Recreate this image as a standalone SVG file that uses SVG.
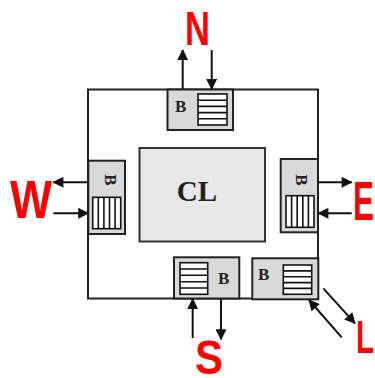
<svg xmlns="http://www.w3.org/2000/svg" width="375" height="378" viewBox="0 0 375 378">
<style>
.frame{fill:#fff;stroke:#222;stroke-width:2}
.box{fill:#d9d9d9;stroke:#222;stroke-width:2}
.cl{fill:#e8e8e8;stroke:#333;stroke-width:2}
.buf{fill:#fff;stroke:#111;stroke-width:1.6}
.bl{font-family:"Liberation Serif",serif;font-weight:bold;font-size:17px;fill:#222}
.dir{font-family:"Liberation Sans",Arial,sans-serif;font-weight:bold;fill:#f00}
.arr{stroke:#111;stroke-width:2;fill:none;marker-end:url(#ah)}
</style>
<defs>
<marker id="ah" viewBox="0 0 12 12" refX="11" refY="6" markerWidth="12" markerHeight="11" markerUnits="userSpaceOnUse" orient="auto">
<path d="M0,0 L12,6 L0,12 z" fill="#111"/>
</marker>
</defs>
<rect width="375" height="378" fill="#fff"/>
<rect class="frame" x="88" y="89.5" width="230" height="209"/>
<g id="CL">
<rect class="cl" x="139.5" y="148" width="125.5" height="93.5"/>
<text x="197" y="201" text-anchor="middle" font-family="Liberation Serif,serif" font-weight="bold" font-size="29" fill="#222">CL</text>
</g>
<g id="bufN">
<rect class="box" x="167.5" y="89.5" width="65.5" height="40.5"/>
<text class="bl" x="175" y="112">B</text>
<rect class="buf" x="198" y="94" width="29" height="31"/>
<path class="buf" d="M198,100.2H227M198,106.4H227M198,112.6H227M198,118.8H227"/>
</g>
<g id="bufW">
<rect class="box" x="88.3" y="160.7" width="36.7" height="73.3"/>
<text class="bl" transform="translate(105,180) rotate(90)" text-anchor="middle">B</text>
<rect class="buf" x="92.7" y="197.3" width="28" height="31.4"/>
<path class="buf" d="M98.3,197.3V228.7M103.9,197.3V228.7M109.5,197.3V228.7M115.1,197.3V228.7"/>
</g>
<g id="bufE">
<rect class="box" x="280.7" y="159" width="37.3" height="73.3"/>
<text class="bl" transform="translate(296,180) rotate(90)" text-anchor="middle">B</text>
<rect class="buf" x="286" y="195.7" width="28" height="31.6"/>
<path class="buf" d="M291.6,195.7V227.3M297.2,195.7V227.3M302.8,195.7V227.3M308.4,195.7V227.3"/>
</g>
<g id="bufS">
<rect class="box" x="174" y="257.3" width="65.3" height="41.2"/>
<text class="bl" x="218" y="284">B</text>
<rect class="buf" x="180" y="262.7" width="27.7" height="31.6"/>
<path class="buf" d="M180,269H207.7M180,275.3H207.7M180,281.7H207.7M180,288H207.7"/>
</g>
<g id="bufL">
<rect class="box" x="252.3" y="258.3" width="66" height="41"/>
<text class="bl" x="258" y="280">B</text>
<rect class="buf" x="283.3" y="265" width="28.4" height="29.3"/>
<path class="buf" d="M283.3,270.9H311.7M283.3,276.7H311.7M283.3,282.6H311.7M283.3,288.4H311.7"/>
</g>
<g id="connectors">
<line class="arr" x1="182.7" y1="89" x2="182.7" y2="50"/>
<line class="arr" x1="211.7" y1="50" x2="211.7" y2="89"/>
<line class="arr" x1="88" y1="182.3" x2="53.3" y2="182.3"/>
<line class="arr" x1="53.3" y1="213.3" x2="88.3" y2="213.3"/>
<line class="arr" x1="318" y1="182.3" x2="351.7" y2="182.3"/>
<line class="arr" x1="351.7" y1="213.3" x2="318.3" y2="213.3"/>
<line class="arr" x1="192.7" y1="338" x2="192.7" y2="299"/>
<line class="arr" x1="221" y1="299" x2="221" y2="339.3"/>
<line class="arr" x1="323.3" y1="288.3" x2="355" y2="323.3"/>
<line class="arr" x1="341.7" y1="337.3" x2="309" y2="300"/>
</g>
<g id="labels">
<text class="dir" x="185" y="45" font-size="49" textLength="25" lengthAdjust="spacingAndGlyphs">N</text>
<text class="dir" x="10" y="218" font-size="53" textLength="42" lengthAdjust="spacingAndGlyphs">W</text>
<text class="dir" x="353" y="220" font-size="55" textLength="21" lengthAdjust="spacingAndGlyphs">E</text>
<text class="dir" x="195" y="374" font-size="48" textLength="28" lengthAdjust="spacingAndGlyphs">S</text>
<text class="dir" x="356" y="353" font-size="46" textLength="18" lengthAdjust="spacingAndGlyphs">L</text>
</g>
</svg>
